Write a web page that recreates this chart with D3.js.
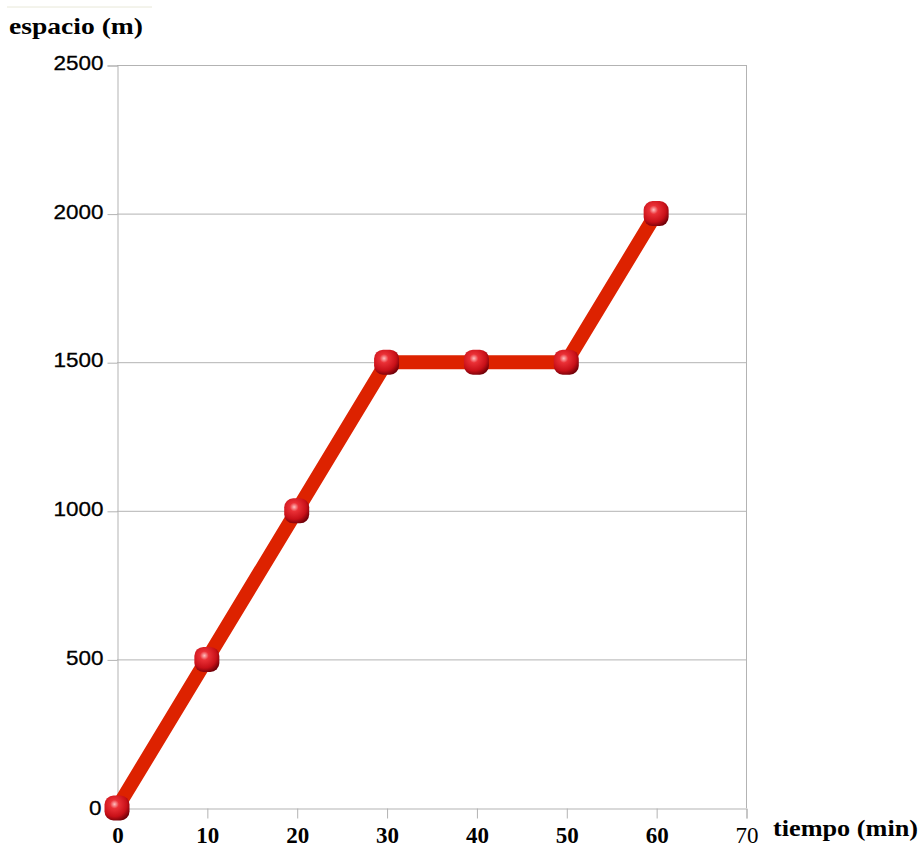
<!DOCTYPE html>
<html><head><meta charset="utf-8">
<script src="https://cdn.jsdelivr.net/npm/d3@7"></script>
<style>body{margin:0;background:#fff}svg{display:block}</style>
</head><body>
<svg id="c" width="921" height="848"></svg>
<script>
const tiempo = [0, 10, 20, 30, 40, 50, 60];
const espacio = [0, 500, 1000, 1500, 1500, 1500, 2000];
const xTicks = [0, 10, 20, 30, 40, 50, 60, 70];
const yTicks = [0, 500, 1000, 1500, 2000, 2500];
const xTitle = "tiempo (min)";
const yTitle = "espacio (m)";

const svg = d3.select("#c");
const x = d3.scaleLinear().domain([0, 70]).range([117, 746]);
const y = d3.scaleLinear().domain([0, 2500]).range([808, 65]);

function stretch(sel, f) {
  sel.each(function () {
    const w = this.getComputedTextLength();
    d3.select(this).attr("textLength", w * f).attr("lengthAdjust", "spacingAndGlyphs");
  });
}

// faint top line
svg.append("line").attr("x1", 7).attr("x2", 152).attr("y1", 7).attr("y2", 7)
  .attr("stroke", "#e8e8d8").attr("stroke-width", 1);

// gridlines
svg.append("g").selectAll("line").data(yTicks.filter(d => d > 0)).join("line")
  .attr("x1", x(0)).attr("x2", x(70)).attr("y1", d => y(d) + 0.5).attr("y2", d => y(d) + 0.5)
  .attr("stroke", "#b3b3b3").attr("stroke-width", 1);

// right border
svg.append("line").attr("x1", x(70) + 0.5).attr("x2", x(70) + 0.5).attr("y1", y(2500)).attr("y2", y(0))
  .attr("stroke", "#b3b3b3");

// y axis
const yAxis = d3.axisLeft(y).tickValues(yTicks).tickSize(10).tickPadding(4).tickFormat(d3.format("d"));
const gy = svg.append("g").attr("transform", `translate(${x(0) + 0.5},0.5)`).call(yAxis);
gy.select(".domain").attr("stroke", "#b3b3b3");
gy.selectAll(".tick line").attr("stroke", "#b3b3b3");
gy.selectAll(".tick text").attr("font-family", "Liberation Sans, Arial, sans-serif")
  .attr("font-size", 19.5).attr("fill", "#000").attr("dy", "0.22em")
  .attr("stroke", "#000").attr("stroke-width", 0.3);
stretch(gy.selectAll(".tick text"), 1.15);
gy.selectAll(".tick").filter(d => d === 0).select("text").attr("x", -16).attr("dy", "0.3em");

// x axis
const xAxis = d3.axisBottom(x).tickValues(xTicks).tickSize(10).tickPadding(0).tickFormat(d3.format("d"));
const gx = svg.append("g").attr("transform", `translate(0.5,${y(0) + 0.5})`).call(xAxis);
gx.select(".domain").attr("stroke", "#b3b3b3");
gx.selectAll(".tick line").attr("stroke", "#b3b3b3");
gx.selectAll(".tick text").attr("font-family", "Liberation Serif, Times New Roman, serif")
  .attr("font-size", 23).attr("font-weight", d => d === 70 ? "normal" : "bold").attr("fill", "#000")
  .attr("y", 34).attr("dy", 0);

// titles
const t1 = svg.append("text").attr("x", 9).attr("y", 34).text(yTitle)
  .attr("font-family", "Liberation Serif, Times New Roman, serif").attr("font-weight", "bold")
  .attr("font-size", 24).attr("fill", "#000");
t1.attr("textLength", 134).attr("lengthAdjust", "spacingAndGlyphs");
const t2 = svg.append("text").attr("x", 773).attr("y", 836).text(xTitle)
  .attr("font-family", "Liberation Serif, Times New Roman, serif").attr("font-weight", "bold")
  .attr("font-size", 23).attr("fill", "#000");
t2.attr("textLength", 145).attr("lengthAdjust", "spacingAndGlyphs");

// gradient for markers
const defs = svg.append("defs");
const grad = defs.append("radialGradient").attr("id", "ball").attr("cx", "40%").attr("cy", "35%").attr("r", "70%");
grad.append("stop").attr("offset", "0%").attr("stop-color", "#ffc0c0");
grad.append("stop").attr("offset", "25%").attr("stop-color", "#ea3036");
grad.append("stop").attr("offset", "70%").attr("stop-color", "#c81018");
grad.append("stop").attr("offset", "100%").attr("stop-color", "#700008");

const pts = tiempo.map((t, i) => [t, espacio[i]]);
svg.append("path").datum(pts)
  .attr("d", d3.line().x(d => x(d[0])).y(d => y(d[1])))
  .attr("fill", "none").attr("stroke", "#dd2200").attr("stroke-width", 14).attr("stroke-linejoin", "miter");

const ms = 25;
svg.append("g").selectAll("rect").data(pts).join("rect")
  .attr("x", d => x(d[0]) - ms / 2).attr("y", d => y(d[1]) - ms / 2)
  .attr("width", ms).attr("height", ms).attr("rx", 9).attr("ry", 9)
  .attr("fill", "url(#ball)");
</script>
</body></html>
